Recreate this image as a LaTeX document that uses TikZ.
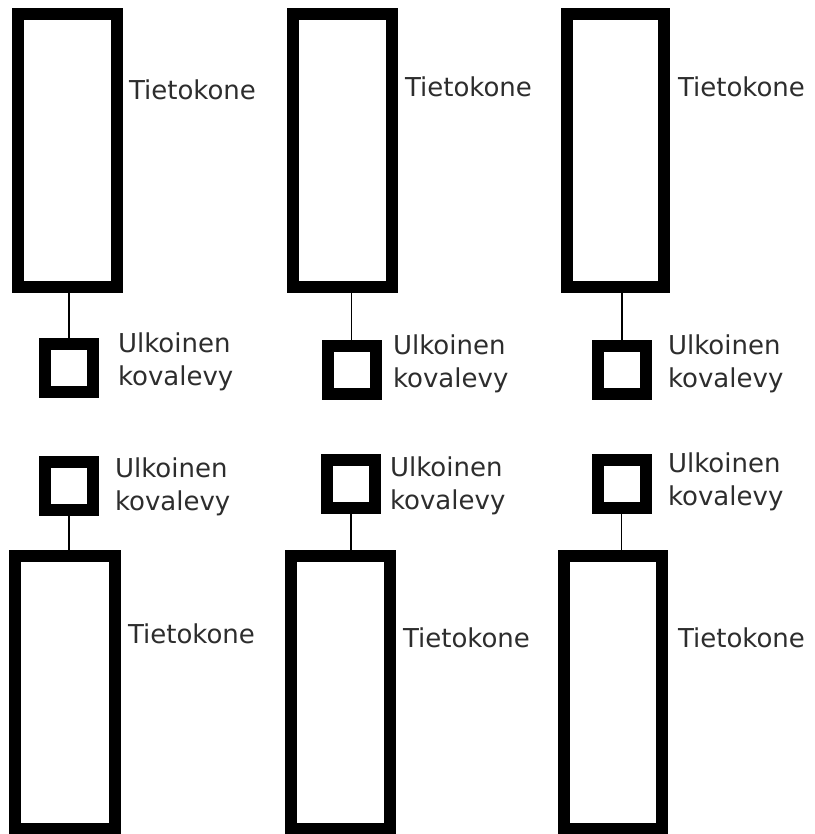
\documentclass[tikz,border=0pt]{standalone}
\usepackage{fontspec}
\setmainfont{DejaVu Sans}
\definecolor{txt}{RGB}{45,45,45}
\begin{document}
\begin{tikzpicture}[x=1pt,y=-1pt,
  pc/.style={draw, line width=12pt, minimum height=273pt, inner sep=0pt, outer sep=0pt},
  disk/.style={draw, line width=12pt, minimum width=48pt, minimum height=48pt, inner sep=0pt, outer sep=0pt},
  lbl/.style={anchor=base west, inner sep=0pt, outer sep=0pt, text=txt, font=\fontsize{26}{33}\selectfont},
  wire/.style={line width=1.5pt}]
\useasboundingbox[fill=white] (0,0) rectangle (814,834);
% top row
\node[pc, minimum width=99pt] (pcA) at (67.5,150.5) {};
\node[pc, minimum width=99pt] (pcB) at (342.5,150.5) {};
\node[pc, minimum width=97pt] (pcC) at (615.5,150.5) {};
\node[disk] (dA) at (69,367.5) {};
\node[disk] (dB) at (351.5,369.5) {};
\node[disk] (dC) at (622,369.5) {};
\draw[wire] (dA.north) -- (dA.north |- pcA.south);
\draw[wire] (dB.north) -- (dB.north |- pcB.south);
\draw[wire] (dC.north) -- (dC.north |- pcC.south);
\node[lbl] (tA) at (129,100) {Tietokone};
\node[lbl] (tB) at (405,97) {Tietokone};
\node[lbl] (tC) at (678,97) {Tietokone};
\node[lbl] (uA) at (118,352) {Ulkoinen};
\node[lbl] (kA) at (118,385) {kovalevy};
\node[lbl] (uB) at (393,354) {Ulkoinen};
\node[lbl] (kB) at (393,387) {kovalevy};
\node[lbl] (uC) at (668,354) {Ulkoinen};
\node[lbl] (kC) at (668,387) {kovalevy};
% bottom row
\node[pc, minimum width=100pt] (pcD) at (65,692.5) {};
\node[pc, minimum width=99pt] (pcE) at (340.5,692.5) {};
\node[pc, minimum width=98pt] (pcF) at (613,692.5) {};
\node[disk] (dD) at (69,486) {};
\node[disk] (dE) at (351,484) {};
\node[disk] (dF) at (621.5,484) {};
\draw[wire] (dD.south) -- (dD.south |- pcD.north);
\draw[wire] (dE.south) -- (dE.south |- pcE.north);
\draw[wire] (dF.south) -- (dF.south |- pcF.north);
\node[lbl] (tD) at (128,643) {Tietokone};
\node[lbl] (tE) at (403,647) {Tietokone};
\node[lbl] (tF) at (678,647) {Tietokone};
\node[lbl] (uD) at (115,477) {Ulkoinen};
\node[lbl] (kD) at (115,510) {kovalevy};
\node[lbl] (uE) at (390,476) {Ulkoinen};
\node[lbl] (kE) at (390,509) {kovalevy};
\node[lbl] (uF) at (668,472) {Ulkoinen};
\node[lbl] (kF) at (668,505) {kovalevy};
\end{tikzpicture}
\end{document}
